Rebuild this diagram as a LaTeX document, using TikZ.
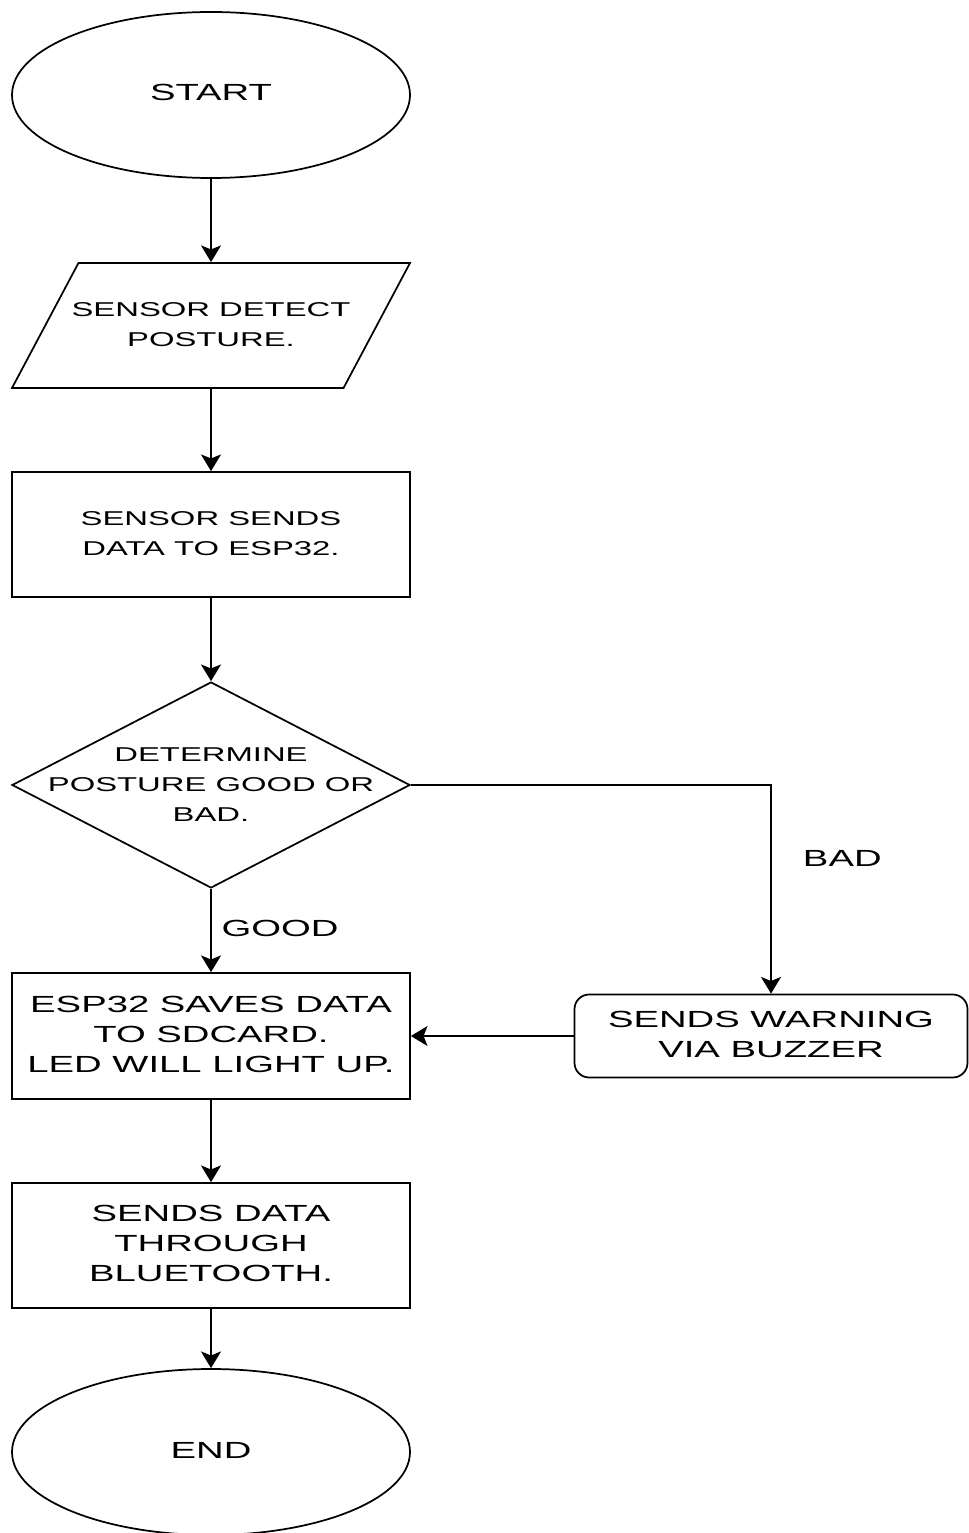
\documentclass[tikz,border=0pt]{standalone}
\usepackage{fontspec}
\setmainfont{Liberation Sans}
\usepackage{graphicx}
\usetikzlibrary{shapes.geometric,arrows.meta}

% wide lettering as in the drawing
\newcommand{\wide}[1]{\scalebox{1.64}[1]{\begin{tabular}{@{}c@{}}#1\end{tabular}}}

\tikzset{every picture/.style={line width=1.3pt}}
\tikzset{
	bigtext/.style={font=\fontsize{17.5}{22.5}\selectfont},
	smalltext/.style={font=\fontsize{15}{22.5}\selectfont},
	terminal/.style={draw, ellipse, minimum width=298.5pt, minimum height=124.5pt, inner sep=0pt, bigtext},
	iobox/.style={draw, trapezium, trapezium left angle=62, trapezium right angle=118, inner sep=0pt, text width=198.8pt, text height=93.75pt, text depth=0pt},
	process/.style={draw, rectangle, minimum width=298.5pt, minimum height=93.75pt, inner sep=0pt},
	decision/.style={draw, diamond, minimum width=298.5pt, minimum height=154.5pt, inner sep=0pt},
	warnbox/.style={draw, rectangle, rounded corners=11pt, minimum width=294.75pt, minimum height=62.25pt, inner sep=0pt, bigtext},
	flow/.style={-{Stealth[length=12.5pt,width=15pt,inset=3pt]}},
}

\begin{document}
\begin{tikzpicture}[x=0.75pt,y=0.75pt,yscale=-1,xscale=1]
	\useasboundingbox (0,0) rectangle (968,1533);

	% Start / End
	\node[terminal] (start) at (211,95) {\wide{START}};
	\node[terminal] (stop) at (211,1452) {\wide{END}};

	% Input
	\node[iobox, label={[smalltext]center:\wide{SENSOR DETECT\\POSTURE.}}] (detect) at (211,325.5) {};

	% Process boxes
	\node[process, smalltext] (senddata) at (211,534.5) {\wide{SENSOR SENDS\\DATA TO ESP32.}};
	\node[process, bigtext, minimum height=94.5pt] (save) at (211,1036) {\wide{ESP32 SAVES DATA\\TO SDCARD.\\LED WILL LIGHT UP.}};
	\node[process, bigtext] (bt) at (211,1245.5) {\wide{SENDS DATA\\THROUGH\\BLUETOOTH.}};

	% Decision
	\node[decision, label={[smalltext]center:\wide{DETERMINE\\POSTURE GOOD OR\\BAD.}}] (decide) at (211,785) {};

	% Warning
	\node[warnbox] (warn) at (771,1036) {\wide{SENDS WARNING\\VIA BUZZER}};

	% Connectors
	\draw[flow] (start) -- (detect);
	\draw[flow] (detect) -- (senddata);
	\draw[flow] (senddata) -- (decide);
	\draw[flow] (decide) -- node[right=4pt, bigtext] {\wide{GOOD}} (save);
	\draw[flow] (decide.east) -| node[pos=0.68, right=20pt, bigtext] {\wide{BAD}} (warn.north);
	\draw[flow] (warn.west) -- (save.east);
	\draw[flow] (save) -- (bt);
	\draw[flow] (bt) -- (stop);

\end{tikzpicture}
\end{document}
